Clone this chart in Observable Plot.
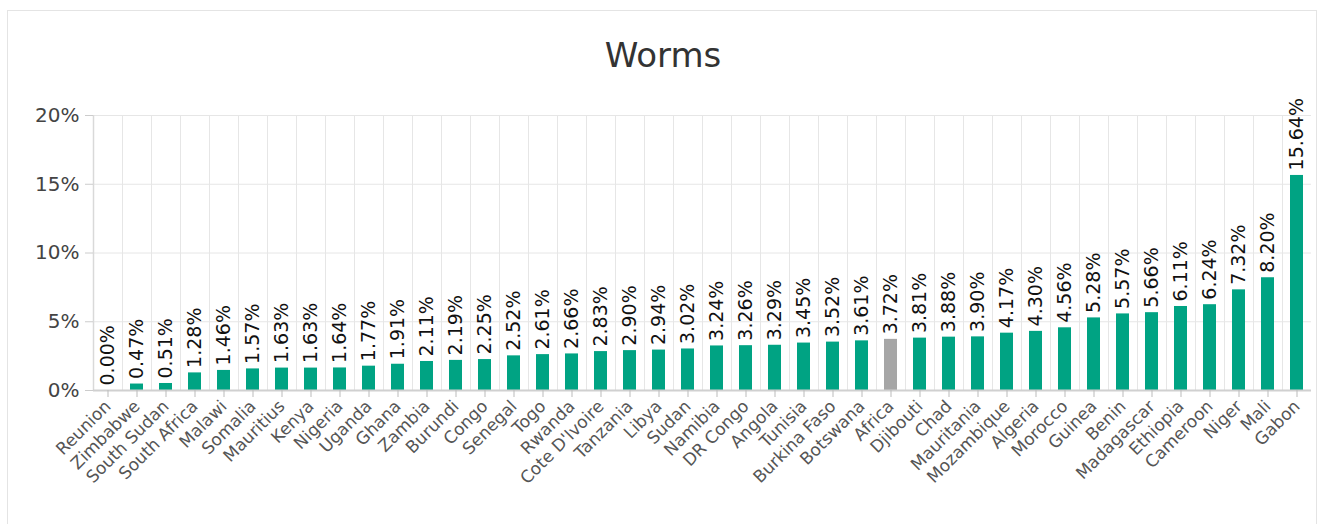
<!DOCTYPE html>
<html>
<head>
<meta charset="utf-8">
<script src="https://cdn.jsdelivr.net/npm/d3@7"></script>
<script src="https://cdn.jsdelivr.net/npm/@observablehq/plot@0.6"></script>
<style>
  html, body { margin: 0; padding: 0; background: #fff; width: 1326px; height: 524px; overflow: hidden; }
  #frame { position: absolute; left: 7px; top: 10px; width: 1310px; height: 530px; border: 1px solid #e4e4e4; box-sizing: border-box; }
  #title { position: absolute; left: 0; width: 1326px; top: 35px; text-align: center; font-family: "DejaVu Sans", sans-serif; font-size: 34px; color: #333; line-height: 40px; }
  #chart { position: absolute; left: 0; top: 0; }
</style>
</head>
<body>
<div id="frame"></div>
<div id="title">Worms</div>
<div id="chart"></div>
<script>
const countries = ["Reunion","Zimbabwe","South Sudan","South Africa","Malawi","Somalia","Mauritius","Kenya","Nigeria","Uganda","Ghana","Zambia","Burundi","Congo","Senegal","Togo","Rwanda","Cote D'Ivoire","Tanzania","Libya","Sudan","Namibia","DR Congo","Angola","Tunisia","Burkina Faso","Botswana","Africa","Djibouti","Chad","Mauritania","Mozambique","Algeria","Morocco","Guinea","Benin","Madagascar","Ethiopia","Cameroon","Niger","Mali","Gabon"];
const values = [0.00,0.47,0.51,1.28,1.46,1.57,1.63,1.63,1.64,1.77,1.91,2.11,2.19,2.25,2.52,2.61,2.66,2.83,2.90,2.94,3.02,3.24,3.26,3.29,3.45,3.52,3.61,3.72,3.81,3.88,3.90,4.17,4.30,4.56,5.28,5.57,5.66,6.11,6.24,7.32,8.20,15.64];
const highlight = "Africa";
const yTicks = [0, 0.05, 0.10, 0.15, 0.20];

const data = countries.map((c, i) => ({country: c, value: values[i] / 100}));

const W = 1326, H = 524, ML = 93, MR = 15, MT = 115, MB = 134;
const step = (W - ML - MR) / countries.length;

const chart = Plot.plot({
  width: W, height: H,
  marginLeft: ML, marginRight: MR, marginTop: MT, marginBottom: MB,
  style: {background: "transparent", fontFamily: "DejaVu Sans, sans-serif", overflow: "visible"},
  x: {domain: countries, paddingInner: 0.54, paddingOuter: 0, align: 0.5, label: null},
  y: {domain: [0, 0.20], label: null},
  marks: [
    Plot.ruleY(yTicks.slice(1), {stroke: "#e6e6e6", strokeWidth: 1}),
    Plot.ruleX(countries.slice(0, -1), {x: d => d, dx: step / 2, stroke: "#e6e6e6", strokeWidth: 1}),
    Plot.ruleX(countries.slice(0, 1), {x: d => d, dx: -step / 2, stroke: "#d9d9d9", strokeWidth: 1.5}),
    Plot.barY(data, {x: "country", y: "value", fill: d => d.country === highlight ? "#a6a6a6" : "#00a383"}),
    Plot.ruleY([0], {stroke: "#d0d0d0", strokeWidth: 2}),
    Plot.axisY({ticks: yTicks, tickFormat: d3.format(".0%"), tickSize: 8, tickPadding: 6, fontSize: 20, stroke: "#cccccc", color: "#444", label: null}),
    Plot.axisX({tickRotate: -45, tickSize: 7, tickPadding: 6, fontSize: 17, stroke: "#bbbbbb", color: "#555", label: null}),
    Plot.text(data, {x: "country", y: "value", text: d => d3.format(".2%")(d.value), rotate: -90, textAnchor: "start", dy: -5, fontSize: 19, fill: "#111"})
  ]
});
document.getElementById("chart").appendChild(chart);
</script>
</body>
</html>
